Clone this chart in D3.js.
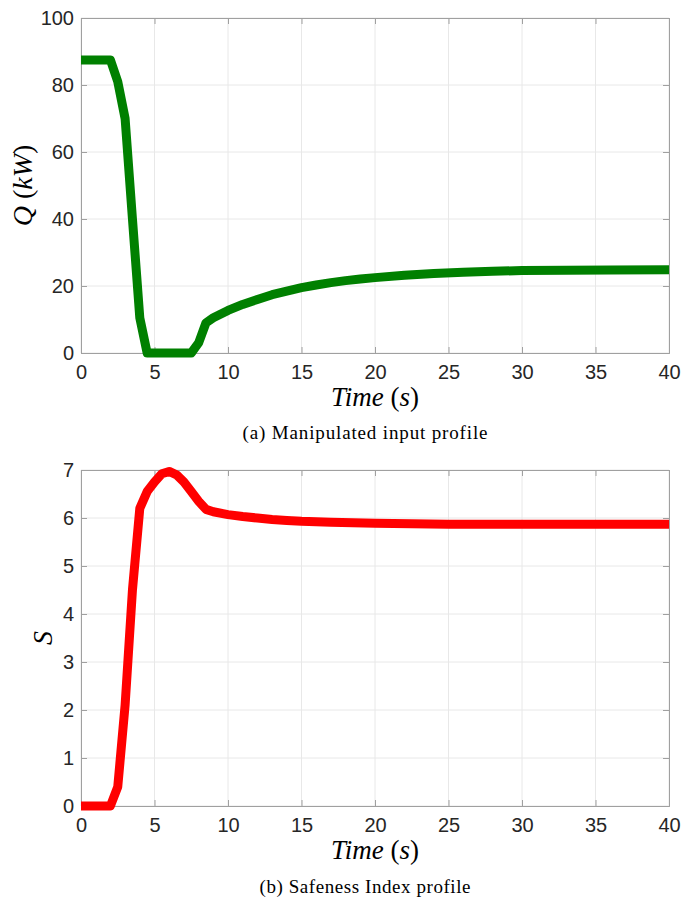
<!DOCTYPE html>
<html><head><meta charset="utf-8">
<script src="https://cdn.jsdelivr.net/npm/d3@7"></script>
<style>body{margin:0;background:#fff}</style>
</head><body>
<svg id="c" width="698" height="897"></svg>
<script>
// ---- data ----
const timeQ = [0,2,2.5,3,3.5,4,4.5,7.5,8,8.5,9,10,11,12,13,14,15,16,17,18,19,20,22,24,26,28,30,33,36,40];
const valQ  = [87.5,87.5,81,70,40,10.5,0,0,3,9,10.5,12.7,14.5,16,17.4,18.5,19.5,20.3,21,21.6,22.1,22.5,23.2,23.7,24.1,24.4,24.6,24.7,24.8,24.85];
const timeS = [0,2,2.5,3,3.5,4,4.5,5,5.5,6,6.5,7,7.5,8,8.5,9,10,11,12,13,14,15,17,20,25,30,40];
const valS  = [0,0,0.4,2.1,4.5,6.2,6.55,6.75,6.92,6.97,6.9,6.75,6.55,6.35,6.18,6.13,6.07,6.03,6.0,5.97,5.95,5.93,5.91,5.89,5.87,5.87,5.87];
const xTicks = [0,5,10,15,20,25,30,35,40];
const yTicksQ = [0,20,40,60,80,100];
const yTicksS = [0,1,2,3,4,5,6,7];

const svg = d3.select("#c");
const L = 81, R = 669;

function panel(opts){
  const {top, bottom, yMax, yTicks, times, vals, color, caption, capY, labelFn, labelX} = opts;
  const x = d3.scaleLinear().domain([0,40]).range([L,R]);
  const y = d3.scaleLinear().domain([0,yMax]).range([bottom,top]);
  const g = svg.append("g");
  // grid
  g.selectAll(".gx").data(xTicks).enter().append("line")
    .attr("x1",d=>x(d)).attr("x2",d=>x(d)).attr("y1",top).attr("y2",bottom)
    .attr("stroke","#e8e8e8").attr("stroke-width",1);
  g.selectAll(".gy").data(yTicks).enter().append("line")
    .attr("y1",d=>y(d)).attr("y2",d=>y(d)).attr("x1",L).attr("x2",R)
    .attr("stroke","#e8e8e8").attr("stroke-width",1);
  // axes with inward ticks
  const tk = 6;
  const axB = d3.axisBottom(x).tickValues(xTicks).tickSize(-tk).tickPadding(12).tickFormat(d3.format("d"));
  const axT = d3.axisTop(x).tickValues(xTicks).tickSize(-tk).tickFormat("");
  const axL = d3.axisLeft(y).tickValues(yTicks).tickSize(-tk).tickPadding(7).tickFormat(d3.format("d"));
  const axR = d3.axisRight(y).tickValues(yTicks).tickSize(-tk).tickFormat("");
  const styleAx = sel => {
    sel.selectAll("path").attr("stroke","#a0a0a0").attr("stroke-width",1);
    sel.selectAll("line").attr("stroke","#a0a0a0");
    sel.selectAll("text").attr("fill","#262626").style("font-family","'Liberation Sans', Arial, sans-serif").style("font-size","20px");
  };
  g.append("g").attr("transform",`translate(0,${bottom})`).call(axB).call(styleAx);
  g.append("g").attr("transform",`translate(0,${top})`).call(axT).call(styleAx);
  g.append("g").attr("transform",`translate(${L},0)`).call(axL).call(styleAx);
  g.append("g").attr("transform",`translate(${R},0)`).call(axR).call(styleAx);
  // line
  const data = times.map((t,i)=>[t,vals[i]]);
  g.append("path").datum(data)
    .attr("d", d3.line().x(d=>x(d[0])).y(d=>y(d[1])))
    .attr("fill","none").attr("stroke",color).attr("stroke-width",9)
    .attr("stroke-linejoin","round").attr("stroke-linecap","butt");
  // x label
  const xl = g.append("text").attr("x",(L+R)/2).attr("y",bottom+53)
    .attr("text-anchor","middle").attr("fill","#000")
    .style("font-family","'Liberation Serif', 'Times New Roman', serif").style("font-size","27px");
  xl.append("tspan").style("font-style","italic").text("Time");
  xl.append("tspan").text(" (");
  xl.append("tspan").style("font-style","italic").text("s");
  xl.append("tspan").text(")");
  // y label
  const yl = g.append("text").attr("transform",`translate(${labelX},${(top+bottom)/2}) rotate(-90)`)
    .attr("text-anchor","middle").attr("fill","#000")
    .style("font-family","'Liberation Serif', 'Times New Roman', serif").style("font-size","28px");
  labelFn(yl);
  // caption
  svg.append("text").attr("x",365).attr("y",capY).attr("text-anchor","middle")
    .attr("fill","#000").attr("textLength", opts.capW).attr("lengthAdjust","spacing")
    .style("font-family","'Liberation Serif', 'Times New Roman', serif").style("font-size","19px")
    .text(caption);
}

panel({top:18,bottom:353,yMax:100,yTicks:yTicksQ,times:timeQ,vals:valQ,color:"#008000",
  caption:"(a) Manipulated input profile",capY:439,capW:245,labelX:32,
  labelFn:t=>{t.append("tspan").style("font-style","italic").text("Q");
    t.append("tspan").text(" (");
    t.append("tspan").style("font-style","italic").text("kW");
    t.append("tspan").text(")");}});
panel({top:470,bottom:806,yMax:7,yTicks:yTicksS,times:timeS,vals:valS,color:"#ff0000",
  caption:"(b) Safeness Index profile",capY:893,capW:211,labelX:52,
  labelFn:t=>{t.append("tspan").style("font-style","italic").text("S");}});
</script>
</body></html>
